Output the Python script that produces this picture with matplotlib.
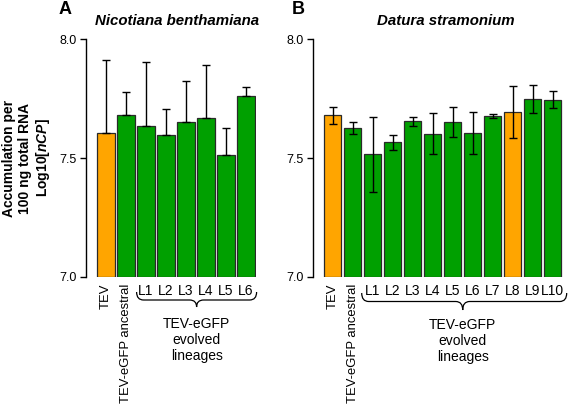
import matplotlib
matplotlib.use("Agg")
import matplotlib.pyplot as plt
import numpy as np
from matplotlib.path import Path
from matplotlib.patches import PathPatch
from matplotlib.transforms import blended_transform_factory

plt.rcParams['font.family'] = ['Liberation Sans', 'DejaVu Sans']
plt.rcParams['mathtext.fontset'] = 'custom'
plt.rcParams['mathtext.it'] = 'Liberation Sans:bold:italic'
plt.rcParams['mathtext.rm'] = 'Liberation Sans:bold'

# ---- data ----
labels_a = ["TEV", "TEV-eGFP ancestral", "L1", "L2", "L3", "L4", "L5", "L6"]
values_a = [7.604, 7.681, 7.635, 7.598, 7.653, 7.667, 7.514, 7.762]
err_a = [0.310, 0.096, 0.270, 0.110, 0.170, 0.225, 0.114, 0.036]
colors_a = ["orange", "green", "green", "green", "green", "green", "green", "green"]

labels_b = ["TEV", "TEV-eGFP ancestral", "L1", "L2", "L3", "L4", "L5", "L6",
            "L7", "L8", "L9", "L10"]
values_b = [7.680, 7.627, 7.516, 7.566, 7.655, 7.603, 7.652, 7.606,
            7.678, 7.694, 7.749, 7.745]
err_b = [0.036, 0.027, 0.157, 0.032, 0.018, 0.088, 0.064, 0.089,
         0.008, 0.111, 0.059, 0.036]
colors_b = ["orange", "green", "green", "green", "green", "green", "green",
            "green", "green", "orange", "green", "green"]

yticks = [7.0, 7.5, 8.0]
ytick_labels = ["7.0", "7.5", "8.0"]

COL = {"orange": "#FFA500", "green": "#00A000"}

W, H = 568, 407
fig = plt.figure(figsize=(W / 100, H / 100), dpi=100)

ax_bot_px, ax_top_px = 276.7, 39.4


def px_axes(x0, x1):
    return [x0 / W, (H - ax_bot_px) / H, (x1 - x0) / W, (ax_bot_px - ax_top_px) / H]


def yfrac(py):
    return (ax_bot_px - py) / (ax_bot_px - ax_top_px)


def brace(ax, x0, x1, xc, ytop, ymid, ybot, dx=0.35):
    tr = blended_transform_factory(ax.transData, ax.transAxes)
    yt, ym, yb = yfrac(ytop), yfrac(ymid), yfrac(ybot)
    verts = [(x0, yt), (x0, ym), (x0 + dx, ym),
             (xc - dx, ym),
             (xc, ym), (xc, yb),
             (xc, ym), (xc + dx, ym),
             (x1 - dx, ym),
             (x1, ym), (x1, yt)]
    codes = [Path.MOVETO, Path.CURVE3, Path.CURVE3,
             Path.LINETO,
             Path.CURVE3, Path.CURVE3,
             Path.CURVE3, Path.CURVE3,
             Path.LINETO,
             Path.CURVE3, Path.CURVE3]
    p = PathPatch(Path(verts, codes), fill=False, lw=0.9, color="black",
                  transform=tr, clip_on=False)
    ax.add_patch(p)


def panel(ax, labels, values, errs, colors, one_sided, xmax):
    x = np.arange(len(labels))
    bottoms = 7.0
    heights = np.array(values) - bottoms
    ax.bar(x, heights, bottom=bottoms, width=0.86,
           color=[COL[c] for c in colors], edgecolor="#2a2a2a", linewidth=0.9,
           zorder=2)
    errs = np.array(errs)
    if one_sided:
        yerr = [np.zeros_like(errs), errs]
    else:
        yerr = errs
    ax.errorbar(x, values, yerr=yerr, fmt="none", ecolor="black",
                elinewidth=1.0, capsize=3.2, capthick=1.0, zorder=3)
    ax.set_xlim(-1.0, xmax)
    ax.set_ylim(7.0, 8.0)
    for s in ["top", "right", "bottom"]:
        ax.spines[s].set_visible(False)
    ax.spines["left"].set_linewidth(1.0)
    ax.set_yticks(yticks)
    ax.set_yticklabels(ytick_labels, fontsize=9)
    ax.tick_params(axis="y", length=4, width=1.0, pad=2.5)
    ax.set_xticks(x)
    ax.set_xticklabels(labels, fontsize=10)
    ax.tick_params(axis="x", length=0, pad=5)
    for i, t in enumerate(ax.get_xticklabels()):
        if i < 2:
            t.set_rotation(90)
            t.set_va("top")
            t.set_ha("center")
            t.set_fontsize(9.4)


ax_a = fig.add_axes(px_axes(86, 256))
panel(ax_a, labels_a, values_a, err_a, colors_a, True, 7.5)
ax_b = fig.add_axes(px_axes(312.7, 562.7))
panel(ax_b, labels_b, values_b, err_b, colors_b, False, 11.5)

# braces and group text
brace(ax_a, 1.53, 7.53, 4.53, 292, 300, 307)
brace(ax_b, 1.45, 11.7, 6.5, 293, 301.5, 310)
tra = blended_transform_factory(ax_a.transData, ax_a.transAxes)
trb = blended_transform_factory(ax_b.transData, ax_b.transAxes)
ax_a.text(4.53, yfrac(317), "TEV-eGFP\nevolved\nlineages", transform=tra,
          ha="center", va="top", fontsize=10, linespacing=1.2)
ax_b.text(6.5, yfrac(318), "TEV-eGFP\nevolved\nlineages", transform=trb,
          ha="center", va="top", fontsize=10, linespacing=1.2)

# titles
fig.text(177.5 / W, 1 - 21 / H, "Nicotiana benthamiana", ha="center", va="center",
         fontsize=10.8, fontweight="bold", fontstyle="italic")
fig.text(446 / W, 1 - 21 / H, "Datura stramonium", ha="center", va="center",
         fontsize=10.8, fontweight="bold", fontstyle="italic")

# panel letters
fig.text(65 / W, 1 - 9 / H, "A", ha="center", va="center", fontsize=13, fontweight="bold")
fig.text(298.5 / W, 1 - 9 / H, "B", ha="center", va="center", fontsize=13, fontweight="bold")

# y label
fig.text(27 / W, 1 - 158 / H, "Accumulation per\n100 ng total RNA\nLog10[$\\mathit{nCP}$]",
         rotation=90, ha="center", va="center", fontsize=10, fontweight="bold",
         multialignment="center", linespacing=1.15)

fig.savefig("out.png", dpi=100)
